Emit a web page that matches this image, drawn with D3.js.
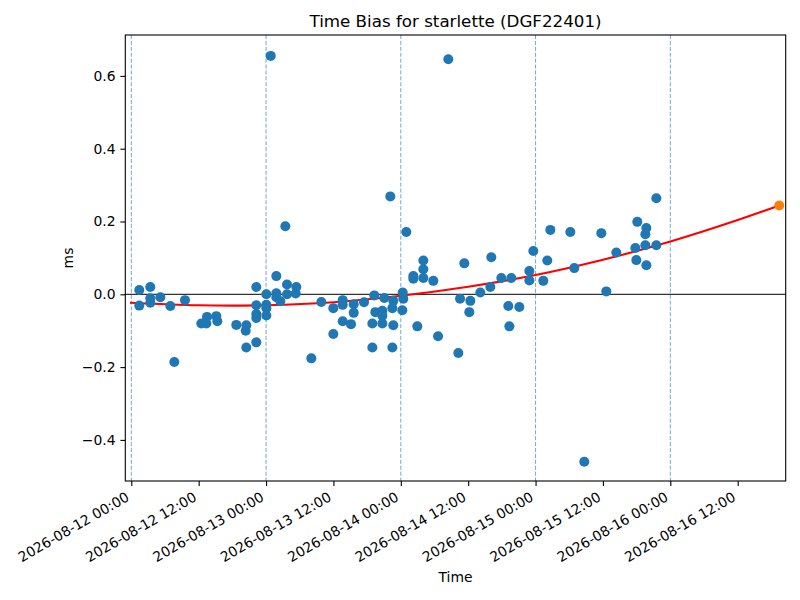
<!DOCTYPE html>
<html>
<head>
<meta charset="utf-8">
<script src="https://cdn.jsdelivr.net/npm/d3@7"></script>
<style>
  body { margin: 0; background: #fff; }
  text { font-family: "DejaVu Sans", sans-serif; fill: #000; }
</style>
</head>
<body>
<div id="chart"></div>
<script>
// Observations: hours after 2026-08-12 00:00 UTC and time bias in ms
const baseTime = Date.UTC(2026, 7, 12, 0, 0);
const obsHours = [
  1.42, 1.42, 3.38, 3.38, 3.38, 5.17, 6.95, 7.66, 9.56, 12.47,
  13.36, 13.48, 15.14, 15.32, 18.70, 20.38, 20.48, 20.48, 22.26, 22.26,
  22.26, 22.26, 22.26, 24.05, 24.05, 24.05, 24.05, 24.83, 25.83, 25.83,
  25.83, 26.54, 27.43, 27.73, 27.73, 29.28, 29.39, 32.06, 33.84, 35.98,
  35.98, 37.65, 37.65, 37.65, 39.13, 39.61, 39.61, 41.45, 42.93, 42.93,
  43.28, 43.46, 44.71, 44.71, 44.71, 45.06, 46.13, 46.49, 46.49, 46.66,
  46.66, 48.27, 48.34, 48.45, 48.98, 50.23, 50.23, 50.94, 52.01, 52.01,
  52.01, 53.79, 54.63, 56.46, 58.24, 58.55, 59.31, 60.20, 60.38, 62.16,
  63.94, 64.12, 65.90, 67.15, 67.33, 67.68, 69.11, 70.89, 70.89, 71.60,
  73.38, 74.09, 74.63, 78.19, 78.90, 80.68, 83.71, 84.60, 86.38, 89.77,
  89.95, 90.12, 91.55, 91.55, 91.73, 91.73, 93.51, 93.51
];
const obsBias = [
  0.012, -0.031, 0.020, -0.011, -0.023, -0.008, -0.032, -0.186, -0.016, -0.080,
  -0.080, -0.062, -0.060, -0.074, -0.084, -0.100, -0.085, -0.146, 0.020, -0.030,
  -0.054, -0.065, -0.132, 0.000, -0.029, -0.038, -0.058, 0.655, 0.050, 0.003,
  -0.008, -0.019, 0.187, 0.027, 0.000, 0.002, 0.020, -0.176, -0.021, -0.038,
  -0.109, -0.016, -0.029, -0.074, -0.082, -0.027, -0.051, -0.022, -0.080, -0.146,
  -0.003, -0.049, -0.045, -0.059, -0.080, -0.010, 0.269, -0.146, -0.038, -0.018,
  -0.085, -0.044, 0.005, -0.012, 0.171, 0.050, 0.043, -0.088, 0.093, 0.069,
  0.045, 0.037, -0.115, 0.646, -0.161, -0.012, 0.085, -0.049, -0.018, 0.005,
  0.020, 0.102, 0.045, -0.032, -0.088, 0.045, -0.035, 0.064, 0.038, 0.119,
  0.037, 0.093, 0.177, 0.171, 0.072, -0.460, 0.168, 0.008, 0.115, 0.127,
  0.094, 0.199, 0.165, 0.135, 0.182, 0.080, 0.264, 0.135
];

// Fitted trend, every 12 h
const fitHours = [-0.23, 12, 24, 36, 48, 60, 72, 84, 96, 108, 115.4];
const fitBias = [-0.023, -0.030, -0.030, -0.022, -0.004, 0.021, 0.053, 0.095, 0.145, 0.204, 0.244];

// Predicted point at the end of the fit
const predHours = [115.4];
const predBias = [0.244];

// Day boundaries (dashed) and axis ticks
const dayMarkHours = [0, 24, 48, 72, 96];
const xTickHours = [0, 12, 24, 36, 48, 60, 72, 84, 96, 108];
const yTicks = [-0.4, -0.2, 0.0, 0.2, 0.4, 0.6];

const hourToDate = h => new Date(baseTime + h * 3600 * 1000);

const width = 800, height = 600;
const margin = { top: 35, right: 14.3, bottom: 119, left: 125.3 };

const svg = d3.select('#chart').append('svg')
  .attr('width', width)
  .attr('height', height);

const x = d3.scaleUtc()
  .domain([hourToDate(-1.07), hourToDate(116.55)])
  .range([margin.left, width - margin.right]);

const y = d3.scaleLinear()
  .domain([-0.5129, 0.7124])
  .range([height - margin.bottom, margin.top]);

const plot = svg.append('g');

// Day boundary lines
plot.selectAll('line.day')
  .data(dayMarkHours)
  .enter().append('line')
  .attr('class', 'day')
  .attr('x1', d => x(hourToDate(d)))
  .attr('x2', d => x(hourToDate(d)))
  .attr('y1', margin.top)
  .attr('y2', height - margin.bottom)
  .attr('stroke', '#1f77b4')
  .attr('stroke-width', 0.8)
  .attr('stroke-opacity', 0.8)
  .attr('stroke-dasharray', '4.1,1.8');

// Zero line
plot.append('line')
  .attr('x1', margin.left)
  .attr('x2', width - margin.right)
  .attr('y1', y(0))
  .attr('y2', y(0))
  .attr('stroke', '#000')
  .attr('stroke-width', 1);

// Fit curve
const fitData = fitHours.map((h, i) => ({ t: hourToDate(h), v: fitBias[i] }));
const line = d3.line()
  .x(d => x(d.t))
  .y(d => y(d.v))
  .curve(d3.curveNatural);

plot.append('path')
  .datum(fitData)
  .attr('d', line)
  .attr('fill', 'none')
  .attr('stroke', 'red')
  .attr('stroke-width', 2.1);

// Observations
const obsData = obsHours.map((h, i) => ({ t: hourToDate(h), v: obsBias[i] }));
plot.selectAll('circle.obs')
  .data(obsData)
  .enter().append('circle')
  .attr('class', 'obs')
  .attr('cx', d => x(d.t))
  .attr('cy', d => y(d.v))
  .attr('r', 5)
  .attr('fill', '#1f77b4');

// Predicted value
plot.selectAll('circle.pred')
  .data(predHours.map((h, i) => ({ t: hourToDate(h), v: predBias[i] })))
  .enter().append('circle')
  .attr('class', 'pred')
  .attr('cx', d => x(d.t))
  .attr('cy', d => y(d.v))
  .attr('r', 5)
  .attr('fill', '#ff7f0e');

// Frame
svg.append('rect')
  .attr('x', margin.left)
  .attr('y', margin.top)
  .attr('width', width - margin.left - margin.right)
  .attr('height', height - margin.top - margin.bottom)
  .attr('fill', 'none')
  .attr('stroke', '#000')
  .attr('stroke-width', 1.1);

// X axis
const fmt = d3.utcFormat('%Y-%m-%d %H:%M');
const xAxis = svg.append('g')
  .attr('transform', `translate(0,${height - margin.bottom})`)
  .call(d3.axisBottom(x)
    .tickValues(xTickHours.map(hourToDate))
    .tickFormat(fmt)
    .tickSizeInner(4.9)
    .tickSizeOuter(0)
    .tickPadding(0));
xAxis.select('.domain').remove();
xAxis.selectAll('.tick line').attr('stroke-width', 1.1);
xAxis.selectAll('.tick text')
  .attr('font-size', 13.9)
  .attr('font-family', 'DejaVu Sans')
  .attr('text-anchor', 'end')
  .attr('y', 0)
  .attr('dy', 0)
  .attr('transform', 'translate(-1.6,18.8) rotate(-30)');

// Y axis
const yAxis = svg.append('g')
  .attr('transform', `translate(${margin.left},0)`)
  .call(d3.axisLeft(y)
    .tickValues(yTicks)
    .tickFormat(d => d3.format('.1f')(d).replace('-', '\u2212'))
    .tickSizeInner(4.9)
    .tickSizeOuter(0)
    .tickPadding(4.9));
yAxis.select('.domain').remove();
yAxis.selectAll('.tick line').attr('stroke-width', 1.1);
yAxis.selectAll('.tick text')
  .attr('font-size', 13.9)
  .attr('font-family', 'DejaVu Sans');

// Title and labels
svg.append('text')
  .attr('x', (margin.left + width - margin.right) / 2)
  .attr('y', 27)
  .attr('text-anchor', 'middle')
  .attr('font-size', 16.7)
  .text('Time Bias for starlette (DGF22401)');

svg.append('text')
  .attr('x', (margin.left + width - margin.right) / 2)
  .attr('y', 582)
  .attr('text-anchor', 'middle')
  .attr('font-size', 13.9)
  .text('Time');

svg.append('text')
  .attr('transform', `translate(73,${(margin.top + height - margin.bottom) / 2}) rotate(-90)`)
  .attr('text-anchor', 'middle')
  .attr('font-size', 13.9)
  .text('ms');
</script>
</body>
</html>
